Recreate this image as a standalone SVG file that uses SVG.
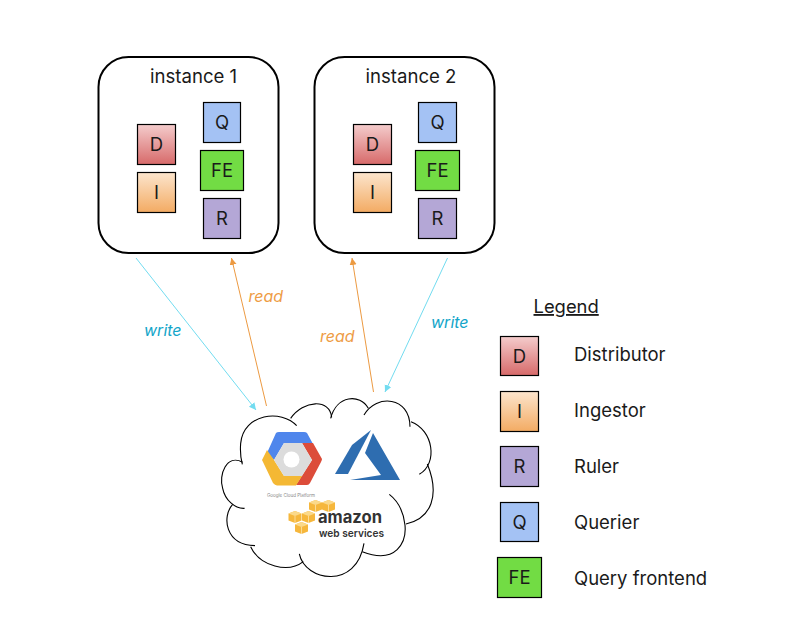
<svg xmlns="http://www.w3.org/2000/svg" width="810" height="623" viewBox="0 0 810 623">
<style>
text{font-family:Inter,"Liberation Sans",sans-serif;fill:#1a1a1a}
.box{fill:#fff;stroke:#000;stroke-width:2}
.n{stroke:#000;stroke-width:1.2}
.l{font-size:18.500px;text-anchor:middle}
.t{font-size:18.500px}
.i{font-size:18.600px}
.w{font-size:16px;font-style:italic;fill:#12a5c9}
.r{font-size:16px;font-style:italic;fill:#ee9c45}
.cw{stroke:#72dcf0;stroke-width:1;fill:none;marker-end:url(#aw)}
.cr{stroke:#ec9a42;stroke-width:1;fill:none;marker-end:url(#ar)}
.d{fill:url(#gd)}.g{fill:url(#gi)}.u{fill:#b4a7d6}.q{fill:#a4c2f4}.f{fill:#72dc44}
</style>
<defs>
<linearGradient id="gd" x1="0" y1="0" x2="0" y2="1"><stop offset="0" stop-color="#f4cccc"/><stop offset="1" stop-color="#d76a6a"/></linearGradient>
<linearGradient id="gi" x1="0" y1="0" x2="0" y2="1"><stop offset="0" stop-color="#fce5cd"/><stop offset="1" stop-color="#f3ab63"/></linearGradient>
<marker id="aw" markerWidth="8" markerHeight="8" refX="7" refY="3.5" orient="auto" markerUnits="userSpaceOnUse"><path d="M0 0L7 3.500L0 7z" fill="#72dcf0"/></marker>
<marker id="ar" markerWidth="8" markerHeight="8" refX="7" refY="3.5" orient="auto" markerUnits="userSpaceOnUse"><path d="M0 0L7 3.500L0 7z" fill="#ec9a42"/></marker>
<g id="cube"><path d="M0 2.500L6.500 0L13 2.500V9.500L6.500 12L0 9.500Z" fill="#f6b73c"/><path d="M0 2.500L6.500 5L13 2.500L6.500 0Z" fill="#fbd98a"/><path d="M6.500 5V12" stroke="#fff3d0" stroke-width=".6"/></g>
</defs>
<rect width="810" height="623" fill="#fff"/>
<g id="instance1">
<rect class="box" x="98.500" y="57" width="180" height="196" rx="30"/>
<text class="i" x="150" y="83">instance 1</text>
<rect class="n d" x="137.500" y="124.500" width="38" height="40"/><text class="l" x="156.500" y="151">D</text>
<rect class="n g" x="137.500" y="172.500" width="38" height="40"/><text class="l" x="156.500" y="199">I</text>
<rect class="n q" x="203.500" y="102.500" width="37" height="40"/><text class="l" x="222" y="129">Q</text>
<rect class="n f" x="200.500" y="150.500" width="43" height="40"/><text class="l" x="222" y="177">FE</text>
<rect class="n u" x="203.500" y="198.500" width="37" height="40"/><text class="l" x="222" y="225">R</text>
</g>
<g id="instance2">
<rect class="box" x="314.500" y="57" width="180" height="196" rx="30"/>
<text class="i" x="365.500" y="83">instance 2</text>
<rect class="n d" x="353.500" y="124.500" width="38" height="40"/><text class="l" x="372.500" y="151">D</text>
<rect class="n g" x="353.500" y="172.500" width="38" height="40"/><text class="l" x="372.500" y="199">I</text>
<rect class="n q" x="418.500" y="102.500" width="38" height="40"/><text class="l" x="437.500" y="129">Q</text>
<rect class="n f" x="415.500" y="150.500" width="44" height="40"/><text class="l" x="437.500" y="177">FE</text>
<rect class="n u" x="418.500" y="198.500" width="38" height="40"/><text class="l" x="437.500" y="225">R</text>
</g>
<g id="connectors">
<path class="cw" d="M136 258L256 410"/>
<path class="cr" d="M266.500 406L231.500 258"/>
<path class="cr" d="M373.500 392L352 258"/>
<path class="cw" d="M447.500 258L385 392"/>
<text class="w" x="144" y="336">write</text>
<text class="r" x="248.500" y="302">read</text>
<text class="r" x="320" y="342">read</text>
<text class="w" x="431" y="328">write</text>
</g>
<g id="cloud">
<g transform="translate(210 385) scale(.3333)" fill="none" stroke="#000" stroke-width="3.300">
<path d="M260 122C215 72 100 85 92 175C90 200 92 220 97 238"/>
<path d="M98 232C50 205 25 270 38 310C45 345 75 372 104 370"/>
<path d="M68 358C35 395 45 480 135 482"/>
<path d="M122 485C150 545 235 565 280 530"/>
<path d="M268 507C285 590 440 615 462 475"/>
<path d="M457 500C560 540 590 470 585 420C580 375 560 345 538 328"/>
<path d="M588 417C665 400 690 330 652 237"/>
<path d="M628 268C685 235 670 135 603 110"/>
<path d="M462 90C500 25 600 35 600 125"/>
<path d="M362 100C380 30 450 25 475 70"/>
<path d="M242 100C280 45 360 40 365 97"/>
</g>
</g>
<g id="gcp">
<path d="M267 453L276 433Q277 432 279 432H304Q306 432 307 433L313 444L302 443H284L274 460Z" fill="#4f86ec"/>
<path d="M302 443H313L322 459Q322 460 321 462L310 483Q309 485 307 485H296L312 460Z" fill="#dc4c3a"/>
<path d="M262 460L267 450L274 460L284 476H302L296 485.500H277Q275 485 273 483L263 462Z" fill="#f4b834"/>
<path d="M274 460L284 443H302L312 460L302 476H284Z" fill="#dcdcdc"/>
<circle cx="291.500" cy="459.500" r="8" fill="#fff"/>
<text x="291" y="496.500" text-anchor="middle" style="font-size:4.500px;fill:#888">Google Cloud Platform</text>
</g>
<g id="azure">
<path d="M335 474L352 445L371 430L348 474Z" fill="#2e6db0"/>
<path d="M373 433L400 480H350L381 475L365 453Z" fill="#2e6db0"/>
</g>
<g id="aws">
<use href="#cube" x="309" y="500"/><use href="#cube" x="322" y="500"/>
<use href="#cube" x="288.500" y="511"/><use href="#cube" x="302" y="511"/>
<use href="#cube" x="295" y="522"/>
<text x="318" y="523" textLength="64" lengthAdjust="spacingAndGlyphs" style="font-size:17px;font-weight:700;fill:#333">amazon</text>
<text x="319" y="536.500" textLength="65" lengthAdjust="spacingAndGlyphs" style="font-size:11px;font-weight:600;fill:#333">web services</text>
</g>
<g id="legend">
<text x="533.500" y="313" style="font-size:18.400px;text-decoration:underline">Legend</text>
<g id="legend-d"><rect class="n d" x="500.500" y="336.500" width="38" height="39"/><text class="l" x="519.500" y="363">D</text><text class="t" x="574" y="361">Distributor</text></g>
<g id="legend-i"><rect class="n g" x="500.500" y="391.500" width="38" height="40"/><text class="l" x="519.500" y="418">I</text><text class="t" x="574" y="417">Ingestor</text></g>
<g id="legend-r"><rect class="n u" x="500.500" y="446.500" width="38" height="40"/><text class="l" x="519.500" y="473">R</text><text class="t" x="574" y="473">Ruler</text></g>
<g id="legend-q"><rect class="n q" x="500.500" y="502.500" width="38" height="39"/><text class="l" x="519.500" y="529">Q</text><text class="t" x="574" y="529">Querier</text></g>
<g id="legend-fe"><rect class="n f" x="497.500" y="557.500" width="44" height="40"/><text class="l" x="519.500" y="584">FE</text><text class="t" x="574" y="585">Query frontend</text></g>
</g>
</svg>
